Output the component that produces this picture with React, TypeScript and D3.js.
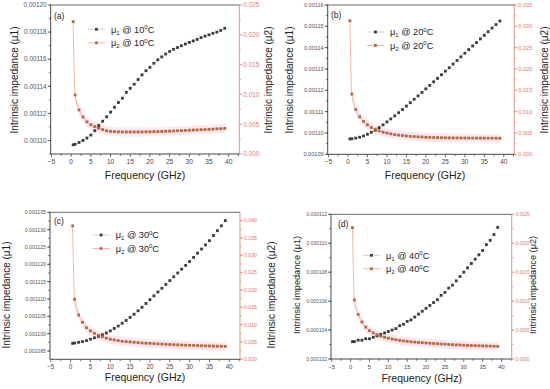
import React from "react";
import * as d3 from "d3";

// Frequencies (GHz)
const freq = [0.5, 1, 2, 3, 4, 5, 6, 7, 8, 9, 10, 11, 12, 13, 14, 15, 16, 17, 18, 19, 20, 21, 22, 23, 24, 25, 26, 27, 28, 29, 30, 31, 32, 33, 34, 35, 36, 37, 38, 39];

// (a) 10 °C
const mu1_10 = [0.0010968, 0.0010972, 0.0010985, 0.0011, 0.0011018, 0.001104, 0.0011072, 0.001111, 0.0011142, 0.0011175, 0.0011209, 0.0011245, 0.001128, 0.0011312, 0.0011355, 0.0011385, 0.0011415, 0.001145, 0.0011484, 0.0011515, 0.001154, 0.001157, 0.0011595, 0.0011617, 0.0011638, 0.0011657, 0.0011673, 0.0011686, 0.0011699, 0.0011712, 0.0011724, 0.0011735, 0.0011746, 0.0011759, 0.001177, 0.001178, 0.0011791, 0.00118, 0.0011812, 0.0011828];
const mu2_10 = [0.0222, 0.0099, 0.0074, 0.0062, 0.0054, 0.0049, 0.0046, 0.0043, 0.0041, 0.0039, 0.0038, 0.00375, 0.00372, 0.0037, 0.0037, 0.0037, 0.0037, 0.0037, 0.00371, 0.00372, 0.00373, 0.00375, 0.00377, 0.00379, 0.00381, 0.00384, 0.00387, 0.0039, 0.00393, 0.00396, 0.00399, 0.00402, 0.00405, 0.00408, 0.00411, 0.00414, 0.00418, 0.00422, 0.00426, 0.0043];

// (b) 20 °C
const mu1_20 = [0.0010972, 0.0010973, 0.0010976, 0.001098, 0.0010986, 0.0010994, 0.0011003, 0.0011013, 0.0011025, 0.0011038, 0.0011052, 0.0011066, 0.001108, 0.0011095, 0.001111, 0.0011126, 0.0011142, 0.0011158, 0.0011174, 0.001119, 0.0011207, 0.0011223, 0.001124, 0.0011256, 0.0011273, 0.001129, 0.0011306, 0.0011323, 0.001134, 0.0011357, 0.0011374, 0.0011391, 0.0011408, 0.0011424, 0.0011441, 0.0011458, 0.0011475, 0.0011492, 0.0011508, 0.0011525];
const mu2_20 = [0.0313, 0.0141, 0.0105, 0.0088, 0.0077, 0.0069, 0.0063, 0.0059, 0.0055, 0.0052, 0.005, 0.0048, 0.0046, 0.0045, 0.0044, 0.0043, 0.0042, 0.00415, 0.0041, 0.00405, 0.004, 0.00397, 0.00394, 0.00391, 0.00389, 0.00387, 0.00385, 0.00384, 0.00383, 0.00382, 0.00381, 0.0038, 0.0038, 0.00379, 0.00379, 0.00378, 0.00378, 0.00378, 0.00377, 0.00377];

// (c) 30 °C
const mu1_30 = [0.0010972, 0.0010973, 0.0010975, 0.0010977, 0.001098, 0.0010984, 0.0010988, 0.0010992, 0.0010997, 0.0011002, 0.0011008, 0.0011015, 0.0011022, 0.001103, 0.0011038, 0.0011047, 0.0011056, 0.0011066, 0.0011076, 0.0011087, 0.0011098, 0.0011109, 0.001112, 0.0011131, 0.0011142, 0.0011153, 0.0011164, 0.0011175, 0.0011186, 0.0011197, 0.0011208, 0.001122, 0.0011232, 0.0011244, 0.0011256, 0.0011268, 0.0011283, 0.0011297, 0.0011311, 0.0011326];
const mu2_30 = [0.0385, 0.0173, 0.0128, 0.0107, 0.0091, 0.0082, 0.0075, 0.0069, 0.0065, 0.0061, 0.0058, 0.0056, 0.0054, 0.0052, 0.0051, 0.005, 0.0049, 0.0048, 0.0047, 0.00465, 0.0046, 0.00452, 0.00445, 0.0044, 0.00433, 0.00428, 0.00422, 0.00417, 0.00412, 0.00408, 0.00404, 0.004, 0.00396, 0.00392, 0.00388, 0.00385, 0.00381, 0.00378, 0.00375, 0.00372];

// (d) 40 °C
const mu1_40 = [0.0001032, 0.0001032, 0.0001033, 0.0001033, 0.0001034, 0.0001034, 0.0001035, 0.0001036, 0.0001037, 0.0001038, 0.0001039, 0.000104, 0.0001041, 0.0001043, 0.0001044, 0.0001046, 0.0001047, 0.0001049, 0.0001051, 0.0001053, 0.0001055, 0.0001057, 0.0001059, 0.0001061, 0.0001064, 0.0001066, 0.0001069, 0.0001071, 0.0001074, 0.0001077, 0.000108, 0.0001083, 0.0001086, 0.0001089, 0.0001092, 0.0001095, 0.0001099, 0.0001102, 0.0001106, 0.0001111];
const mu2_40 = [0.00227, 0.00102, 0.00077, 0.00064, 0.00055, 0.00049, 0.00045, 0.00042, 0.000395, 0.000375, 0.00036, 0.000345, 0.000333, 0.000322, 0.000313, 0.000305, 0.000298, 0.000292, 0.000287, 0.000282, 0.000277, 0.000272, 0.000268, 0.000264, 0.00026, 0.000256, 0.000252, 0.000248, 0.000245, 0.000242, 0.000239, 0.000236, 0.000233, 0.000231, 0.000228, 0.000226, 0.000224, 0.000222, 0.00022, 0.000218];

// Tick labels
const xTicks = [-5, 0, 5, 10, 15, 20, 25, 30, 35, 40];
const leftTicksA = ["0.00110", "0.00112", "0.00114", "0.00116", "0.00118", "0.00120"];
const rightTicksA = ["0.000", "0.005", "0.010", "0.015", "0.020", "0.025"];
const leftTicksB = ["0.00109", "0.00110", "0.00111", "0.00112", "0.00113", "0.00114", "0.00115", "0.00116"];
const rightTicksB = ["0.000", "0.005", "0.010", "0.015", "0.020", "0.025", "0.030", "0.035"];
const leftTicksC = ["0.001095", "0.001100", "0.001105", "0.001110", "0.001115", "0.001120", "0.001125", "0.001130", "0.001135"];
const rightTicksC = ["0.000", "0.005", "0.010", "0.015", "0.020", "0.025", "0.030", "0.035", "0.040"];
const leftTicksD = ["0.000102", "0.000104", "0.000106", "0.000108", "0.000110", "0.000112"];
const rightTicksD = ["0.0000", "0.0005", "0.0010", "0.0015", "0.0020", "0.0025"];

const temps = ["10", "20", "30", "40"];
const labels = ["(a)", "(b)", "(c)", "(d)"];

const FONT = "'Liberation Sans', Arial, sans-serif";
const C_MU1 = "#3b3b3b";
const C_MU2 = "#b5673f";
const C_MU2_LINE = "#f2a486";
const C_RIGHT = "#dc8a78";
const C_RIGHT_TXT = "#e8756e";

type PanelProps = {
  label: string;
  temp: string;
  mu1: number[];
  mu2: number[];
  xr: [number, number];
  yr: [number, number];
  leftDomain: [number, number];
  rightDomain: [number, number];
  leftTicks: string[];
  rightTicks: string[];
  legend: [number, number];
  labelPos: [number, number];
  xTitle: [number, number];
  lTitleX: number;
  rTitleX: number;
  titleY: number;
  tickFs: number;
  rTickFs: number;
  xTickFs: number;
  titleFs: number;
};

function Panel(p: PanelProps) {
  const x = d3.scaleLinear().domain([-5.2, 42.7]).range(p.xr);
  const yl = d3.scaleLinear().domain(p.leftDomain).range(p.yr);
  const yr = d3.scaleLinear().domain(p.rightDomain).range(p.yr);
  const [x0, x1] = p.xr;
  const [yb, yt] = p.yr;

  const lineMu1 = d3.line<number>().x((_, i) => x(freq[i])).y((d) => yl(d));
  const lineMu2 = d3.line<number>().x((_, i) => x(freq[i])).y((d) => yr(d)).curve(d3.curveMonotoneX);
  const idx = d3.range(1, freq.length);
  const band = d3
    .area<number>()
    .x((i) => x(freq[i]))
    .y0((i) => yr(p.mu2[i]) + 4.5)
    .y1((i) => yr(p.mu2[i]) - 4.5);

  const leftVals = p.leftTicks.map(Number);
  const rightVals = p.rightTicks.map(Number);
  const lStep = leftVals[1] - leftVals[0];
  const rStep = rightVals[1] - rightVals[0];
  const lMinor = d3.range(leftVals.length * 2 + 2).map((k) => leftVals[0] + ((k - 2) * lStep) / 2).filter((v) => v >= p.leftDomain[0] - 1e-12 && v <= p.leftDomain[1] + 1e-12);
  const rMinor = d3.range(rightVals.length * 2 + 2).map((k) => rightVals[0] + (k * rStep) / 2).filter((v) => v <= p.rightDomain[1] + 1e-12);
  const xMinor = d3.range(-5, 42.6, 2.5);

  const sub = 2;
  const ms = 2.8;
  return (
    <g fontFamily={FONT}>
      <path d={band(idx) || ""} fill="#fbd9e6" opacity={0.6} />
      {/* frame */}
      <line x1={x0} x2={x1} y1={yt} y2={yt} stroke="#444" strokeWidth={0.8} />
      <line x1={x0} x2={x1} y1={yb} y2={yb} stroke="#333" strokeWidth={0.9} />
      <line x1={x0} x2={x0} y1={yt} y2={yb} stroke="#333" strokeWidth={0.9} />
      <line x1={x1} x2={x1} y1={yt} y2={yb} stroke={C_RIGHT} strokeWidth={0.9} />
      {/* x ticks */}
      {xMinor.map((v) => (
        <line key={"xm" + v} x1={x(v)} x2={x(v)} y1={yb} y2={yb + (v % 5 === 0 ? 3 : 1.8)} stroke="#333" strokeWidth={0.7} />
      ))}
      {xTicks.map((v) => (
        <text key={"xt" + v} x={x(v)} y={yb + 9.5} fontSize={p.xTickFs} fill="#444" textAnchor="middle">
          {v < 0 ? "\u2212" + Math.abs(v) : v}
        </text>
      ))}
      {/* left ticks */}
      {lMinor.map((v, k) => (
        <line key={"lm" + k} x1={x0} x2={x0 - 1.8} y1={yl(v)} y2={yl(v)} stroke="#333" strokeWidth={0.7} />
      ))}
      {leftVals.map((v, k) => (
        <g key={"lt" + k}>
          <line x1={x0} x2={x0 - 3} y1={yl(v)} y2={yl(v)} stroke="#333" strokeWidth={0.7} />
          <text x={x0 - 4} y={yl(v) + p.tickFs * 0.36} fontSize={p.tickFs} fill="#555" textAnchor="end">
            {p.leftTicks[k]}
          </text>
        </g>
      ))}
      {/* right ticks */}
      {rMinor.map((v, k) => (
        <line key={"rm" + k} x1={x1} x2={x1 + 1.8} y1={yr(v)} y2={yr(v)} stroke={C_RIGHT} strokeWidth={0.7} />
      ))}
      {rightVals.map((v, k) => (
        <g key={"rt" + k}>
          <line x1={x1} x2={x1 + 3} y1={yr(v)} y2={yr(v)} stroke={C_RIGHT} strokeWidth={0.7} />
          <text x={x1 + 4} y={yr(v) + p.rTickFs * 0.36} fontSize={p.rTickFs} fill={C_RIGHT_TXT} textAnchor="start">
            {p.rightTicks[k]}
          </text>
        </g>
      ))}
      {/* series */}
      <path d={lineMu1(p.mu1) || ""} fill="none" stroke="#c8c8c8" strokeWidth={0.5} />
      <path d={lineMu2(p.mu2) || ""} fill="none" stroke={C_MU2_LINE} strokeWidth={0.8} />
      {p.mu1.map((v, i) => (
        <rect key={"a" + i} x={x(freq[i]) - ms / 2} y={yl(v) - ms / 2} width={ms} height={ms} fill={C_MU1} />
      ))}
      {p.mu2.map((v, i) => (
        <rect key={"b" + i} x={x(freq[i]) - ms / 2} y={yr(v) - ms / 2} width={ms} height={ms} fill={C_MU2} />
      ))}
      {/* legend */}
      <g transform={`translate(${p.legend[0]},${p.legend[1]})`}>
        <line x1={0} x2={17} y1={0} y2={0} stroke="#bbb" strokeWidth={0.7} />
        <rect x={7} y={-ms / 2} width={ms} height={ms} fill={C_MU1} />
        <text x={23} y={3.3} fontSize={9.2} fill="#222">
          μ<tspan fontSize={6} dy={sub}>1</tspan>
          <tspan dy={-sub}> @ {p.temp}</tspan>
          <tspan fontSize={6} dy={-3.5}>0</tspan>
          <tspan dy={3.5}>C</tspan>
        </text>
        <line x1={0} x2={17} y1={13.5} y2={13.5} stroke={C_MU2_LINE} strokeWidth={0.8} />
        <rect x={7} y={13.5 - ms / 2} width={ms} height={ms} fill={C_MU2} />
        <text x={23} y={16.8} fontSize={9.2} fill="#222">
          μ<tspan fontSize={6} dy={sub}>2</tspan>
          <tspan dy={-sub}> @ {p.temp}</tspan>
          <tspan fontSize={6} dy={-3.5}>0</tspan>
          <tspan dy={3.5}>C</tspan>
        </text>
      </g>
      <text x={p.labelPos[0]} y={p.labelPos[1]} fontSize={8.5} fill="#222">
        {p.label}
      </text>
      {/* axis titles */}
      <text x={p.xTitle[0]} y={p.xTitle[1]} fontSize={10.5} fill="#222" textAnchor="middle">
        Frequency (GHz)
      </text>
      <text transform={`translate(${p.lTitleX},${p.titleY}) rotate(-90)`} fontSize={p.titleFs} fill="#222" textAnchor="middle">
        Intrinsic impedance (μ1)
      </text>
      <text transform={`translate(${p.rTitleX},${p.titleY}) rotate(-90)`} fontSize={p.titleFs} fill="#222" textAnchor="middle">
        Intrinsic impedance (μ2)
      </text>
    </g>
  );
}

export default function App() {
  return (
    <svg width={550} height={389} style={{ position: "absolute", left: 0, top: 0, background: "#fff" }}>
      <rect width={550} height={389} fill="#fff" />
      <Panel label={labels[0]} temp={temps[0]} mu1={mu1_10} mu2={mu2_10}
        xr={[50.7, 239.3]} yr={[154, 5]} leftDomain={[0.00109, 0.0012]} rightDomain={[0, 0.025]}
        leftTicks={leftTicksA} rightTicks={rightTicksA} legend={[88, 29.3]} labelPos={[54, 18.5]}
        xTitle={[145, 179]} lTitleX={17.5} rTitleX={271.5} titleY={80}
        tickFs={6.4} rTickFs={6.4} xTickFs={6.6} titleFs={10} />
      <Panel label={labels[1]} temp={temps[1]} mu1={mu1_20} mu2={mu2_20}
        xr={[327.7, 514.3]} yr={[154.3, 5]} leftDomain={[0.00109, 0.00116]} rightDomain={[0, 0.035]}
        leftTicks={leftTicksB} rightTicks={rightTicksB} legend={[367, 32]} labelPos={[331, 18]}
        xTitle={[425, 179]} lTitleX={292.5} rTitleX={547.5} titleY={80}
        tickFs={5.6} rTickFs={5.6} xTickFs={6.4} titleFs={10} />
      <Panel label={labels[2]} temp={temps[2]} mu1={mu1_30} mu2={mu2_30}
        xr={[50, 240]} yr={[359.3, 212.3]} leftDomain={[0.0010926, 0.001135]} rightDomain={[0, 0.0424]}
        leftTicks={leftTicksC} rightTicks={rightTicksC} legend={[92.7, 235]} labelPos={[54, 224]}
        xTitle={[145, 381]} lTitleX={10} rTitleX={275} titleY={295}
        tickFs={5.2} rTickFs={5.2} xTickFs={6.3} titleFs={10} />
      <Panel label={labels[3]} temp={temps[3]} mu1={mu1_40} mu2={mu2_40}
        xr={[331, 511.7]} yr={[359, 214.3]} leftDomain={[0.000102, 0.000112]} rightDomain={[0, 0.0025]}
        leftTicks={leftTicksD} rightTicks={rightTicksD} legend={[363, 255.3]} labelPos={[338, 227]}
        xTitle={[421.7, 381.5]} lTitleX={300} rTitleX={536} titleY={285}
        tickFs={5.0} rTickFs={4.5} xTickFs={5.8} titleFs={9.2} />
    </svg>
  );
}
